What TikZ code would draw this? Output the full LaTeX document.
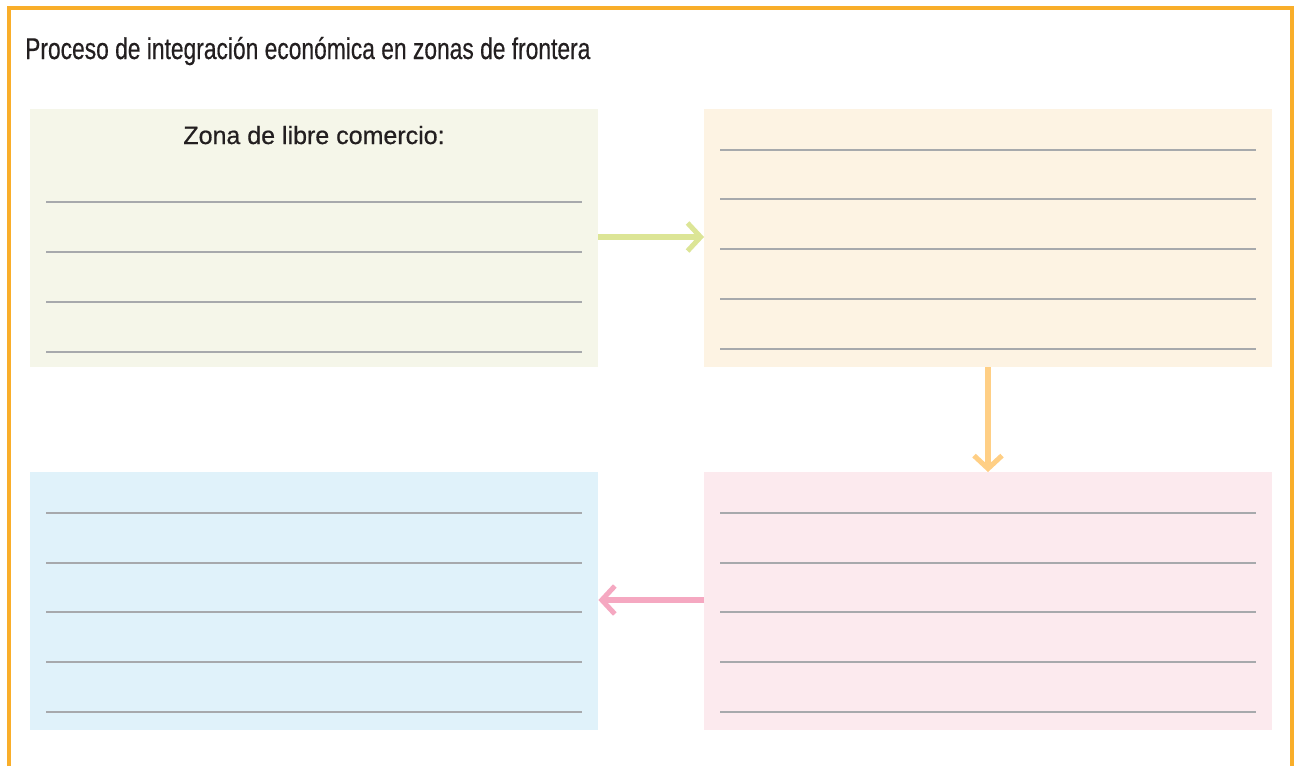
\documentclass[tikz,border=0pt]{standalone}
\usepackage{fontspec}
\setmainfont{Liberation Sans}
\newfontfamily\titlefont[FakeStretch=0.76,FakeBold=0.4]{Liberation Sans}
\newfontfamily\headfont[FakeBold=0.6]{Liberation Sans}
\usetikzlibrary{arrows.meta}
\definecolor{frameor}{HTML}{F9AE2A}
\definecolor{bgreen}{HTML}{F5F6E9}
\definecolor{borange}{HTML}{FDF3E3}
\definecolor{bpink}{HTML}{FCEAEE}
\definecolor{bblue}{HTML}{E0F2FA}
\definecolor{agreen}{HTML}{DCE596}
\definecolor{aorange}{HTML}{FFCF85}
\definecolor{apink}{HTML}{F5A8C1}
\definecolor{rule}{HTML}{A7A9AC}
\definecolor{txt}{HTML}{231F20}
\begin{document}
\begin{tikzpicture}[x=1pt,y=-1pt,
  panel/.style={inner sep=0pt, minimum width=568pt, minimum height=258pt, anchor=north west},
  wline/.style={draw=rule, line width=1.2pt},
  conn/.style={line width=5.5pt, -{Straight Barb[length=13pt,width=28pt,line width=5pt]}}]
\useasboundingbox (0,0) rectangle (1295,766);
\fill[white] (0,0) rectangle (1295,766);
\draw[frameor, line width=3.2pt] (9,766) -- (9,8) -- (1292,8) -- (1292,766);
\node[anchor=base west, inner sep=0pt, text=txt, font=\titlefont\fontsize{30}{32}\selectfont] (title) at (25,59) {Proceso de integración económica en zonas de frontera};
\node[panel, fill=bgreen] (b1) at (30,109) {};
\node[panel, fill=borange] (b2) at (704,109) {};
\node[panel, fill=bpink] (b3) at (704,472) {};
\node[panel, fill=bblue] (b4) at (30,472) {};
\node[anchor=base, inner sep=0pt, text=txt, font=\headfont\fontsize{25}{27}\selectfont] (head) at (314,144) {Zona de libre comercio:};
\foreach \y in {202,252,302,352} \draw[wline] (46,\y) -- (582,\y);
\foreach \y in {150,199,249,299,349} \draw[wline] (720,\y) -- (1256,\y);
\foreach \y in {513,563,612,662,712} {\draw[wline] (720,\y) -- (1256,\y); \draw[wline] (46,\y) -- (582,\y);}
\draw[conn, agreen] (b1.east |- 0,237) -- (b2.west |- 0,237);
\draw[conn, aorange] (988,367) -- (988,472);
\draw[conn, apink] (b3.west |- 0,600) -- (b4.east |- 0,600);
\end{tikzpicture}
\end{document}
